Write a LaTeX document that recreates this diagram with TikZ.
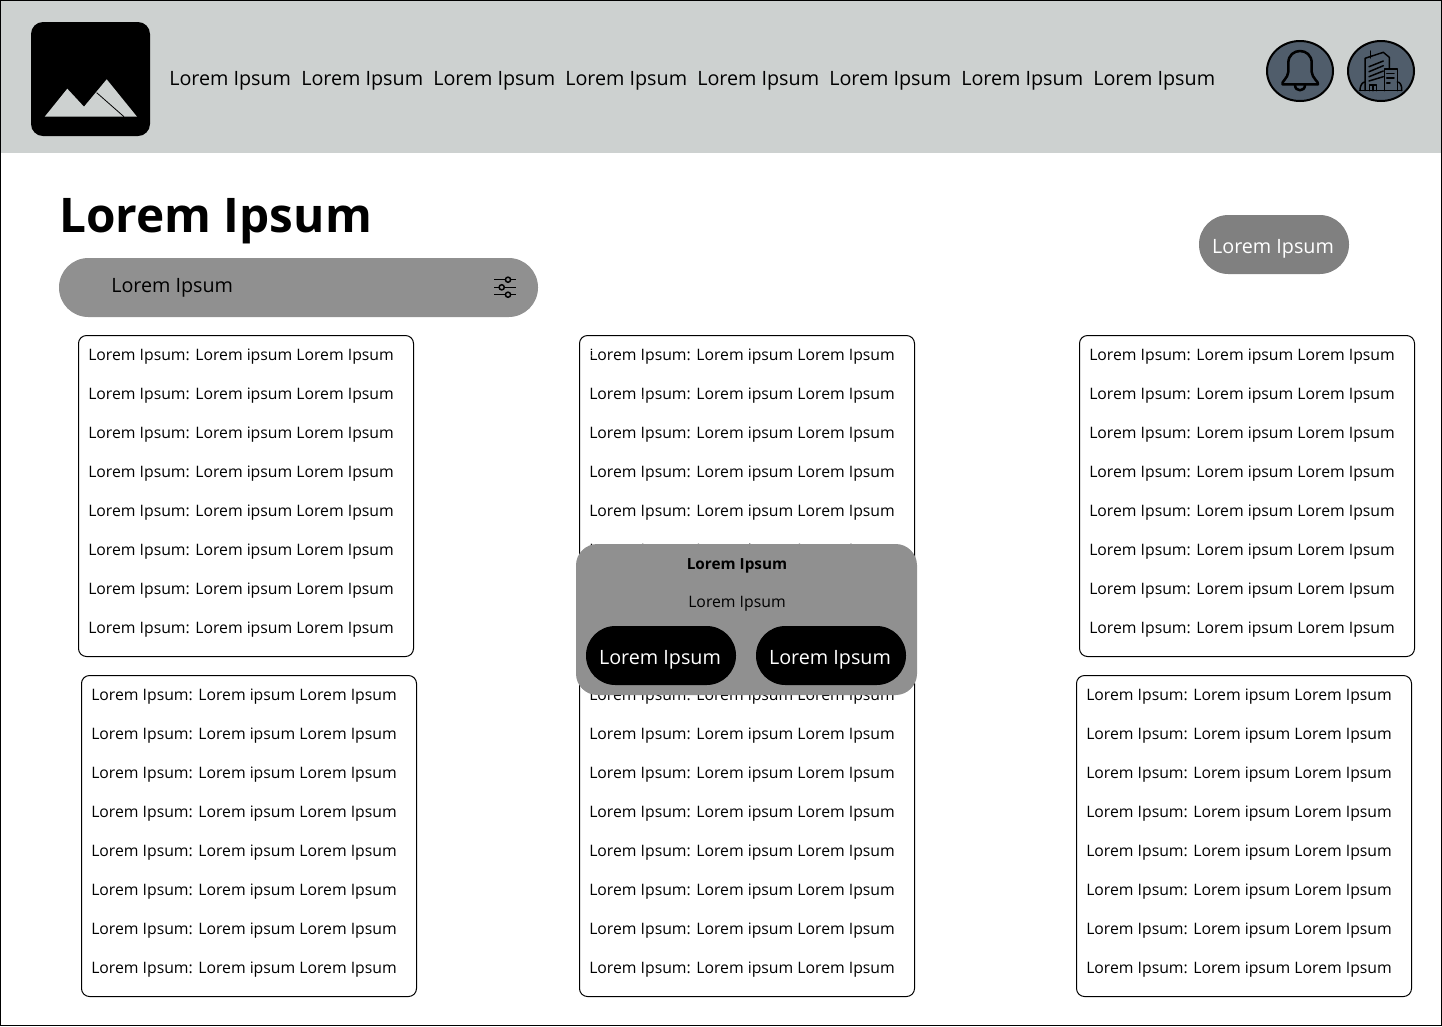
\documentclass[tikz,border=0pt]{standalone}
\usepackage{fontspec}
\setmainfont{Open Sans}
\definecolor{headergrey}{HTML}{CDD1D0}
\definecolor{pillgrey}{HTML}{909090}
\definecolor{btngrey}{HTML}{808080}
\definecolor{slate}{HTML}{505D6B}
\tikzset{
  navlabel/.style={anchor=west,inner sep=0pt,yshift=-2.25pt,font=\fontsize{14.8}{18}\selectfont},
  rowlabel/.style={anchor=west,inner sep=0pt,yshift=-2.25pt,font=\fontsize{11.83}{14}\selectfont},
  pillbtn/.style={rectangle,rounded corners=22pt,minimum width=112.5pt,minimum height=44.25pt,inner sep=0pt,text=white,font=\fontsize{14.8}{18}\selectfont},
  iconline/.style={line width=1.9pt,line cap=round,line join=round},
  thinline/.style={line width=1.1pt,line cap=round,line join=round}
}
\begin{document}
\begin{tikzpicture}[x=0.75pt,y=-0.75pt]
\useasboundingbox (0,0) rectangle (1442,1026);
% header
\fill[headergrey] (0,0) rectangle (1442,153);
\fill[black,rounded corners=9pt] (31,22) rectangle (150,136);
\fill[headergrey] (44.7,116.7) -- (67.3,88.7) -- (84,106.7) -- (106.7,79.3) -- (137,116.7) -- cycle;
\draw[black,line width=0.6pt] (96.7,92.7) -- (124,116.7);
\foreach \i/\xpos in {1/169,2/301,3/433,4/565,5/697,6/829,7/961,8/1093}
  \node[navlabel] (nav\i) at (\xpos,78) {Lorem Ipsum};
% bell
\draw[black,line width=1.5pt,fill=slate] (1300,71) ellipse [x radius=33,y radius=30];
\draw[iconline] (1282.5,84.3) -- (1318,84.3) .. controls (1319,82) and (1312,78) .. (1311.7,72) -- (1311.7,63) .. controls (1311.7,47) and (1288.3,47) .. (1288.3,63) -- (1288.3,72) .. controls (1288,78) and (1281,82) .. (1282.5,84.3) -- cycle;
\draw[iconline] (1295,85) .. controls (1295,92) and (1305,92) .. (1305,85);
% building
\draw[black,line width=1.5pt,fill=slate] (1381,71) ellipse [x radius=33,y radius=30];
\draw[thinline] (1365,90.7) -- (1365,58.3) -- (1383.3,52.3) -- (1389.3,57.3) -- (1389.3,69);
\draw[thinline] (1370.7,58) -- (1370.7,51);
\draw[thinline] (1369,66.7) -- (1383.3,61);
\draw[thinline] (1369,71.7) -- (1383.3,65.7);
\draw[thinline] (1369,76.7) -- (1383.3,71);
\draw[thinline] (1369,81) -- (1383.3,76.7);
\draw[thinline] (1384.3,90.7) -- (1384.3,69) -- (1397.3,69) -- (1397.3,90.7);
\draw[thinline] (1386.7,73.3) -- (1394,73.3) (1386.7,78) -- (1394,78) (1386.7,83) -- (1390,83);
\draw[thinline] (1369.3,90.7) -- (1369.3,85) -- (1376.7,85) -- (1376.7,90.7) (1373,85) -- (1373,90.7);
\draw[thinline] (1359.3,90.7) -- (1401.7,90.7);
\draw[thinline] (1360,90.7) .. controls (1360,83) and (1364,82) .. (1365,82);
\draw[thinline] (1397.3,82) .. controls (1400,82) and (1402,85) .. (1401.7,90.7);
% title and search bar
\node[anchor=west,inner sep=0pt,yshift=-4.6pt,font=\fontsize{35.8}{42}\selectfont\bfseries] (title) at (59,215) {Lorem Ipsum};
\fill[pillgrey,rounded corners=22pt] (59,258) rectangle (538,317);
\node[navlabel] (searchlabel) at (111,285) {Lorem Ipsum};
\draw[black,line width=1.1pt] (494,279.7) -- (516,279.7) (494,287.3) -- (516,287.3) (494,294.7) -- (516,294.7);
\draw[black,line width=1.1pt,fill=pillgrey] (508,279.7) circle (2.6) (501.7,287.3) circle (2.6) (508,294.7) circle (2.6);
\node[pillbtn,fill=btngrey,text depth=0pt,text height=0pt] (addbtn) at (1274,244.5) {\raisebox{-6.5pt}{\kern-1.5pt Lorem Ipsum}};
% list cards
\foreach \c/\xpos/\ypos/\lastrow in {a/78.5/335.5/7,b/81.5/675.5/7,c/579.5/335.5/5,d/579.5/675.5/7,e/1079.5/335.5/7,f/1076.5/675.5/7}{
  \draw[black,line width=0.75pt,rounded corners=6pt] (\xpos,\ypos) rectangle (\xpos+335,\ypos+321);
  \foreach \r in {0,...,\lastrow}
    \node[rowlabel] (\c\r) at (\xpos+9.5,\ypos+18.5+39*\r) {Lorem Ipsum: Lorem ipsum Lorem Ipsum};
}
% scratches in the middle card
\draw[white,line width=0.5pt] (590,350.5) -- (593,350.5) (590,356) -- (592,356) (596.5,352) -- (598.5,353.5) (596.5,358) -- (598,358);
\draw[white,line width=0.5pt,densely dotted] (590,399.5) -- (628,399.5) (636,397) -- (650,397) (645,389) -- (648,392);
% dialog
\fill[pillgrey,rounded corners=16pt] (576,544) rectangle (917,695);
\node[inner sep=0pt,yshift=-2.25pt,font=\fontsize{11.5}{14}\selectfont\bfseries] (dialogtitle) at (737,563) {Lorem Ipsum};
\node[inner sep=0pt,yshift=-2.25pt,font=\fontsize{11.83}{14}\selectfont] (dialogtext) at (737,601) {Lorem Ipsum};
\node[pillbtn,fill=black,text depth=0pt,text height=0pt] (okbtn) at (661,655.5) {\raisebox{-6.5pt}{\kern-1.5pt Lorem Ipsum}};
\node[pillbtn,fill=black,text depth=0pt,text height=0pt] (cancelbtn) at (831,655.5) {\raisebox{-6.5pt}{\kern-1.5pt Lorem Ipsum}};
% frame
\draw[black,line width=0.75pt] (0.5,0.5) rectangle (1441.5,1025.5);
\end{tikzpicture}
\end{document}
